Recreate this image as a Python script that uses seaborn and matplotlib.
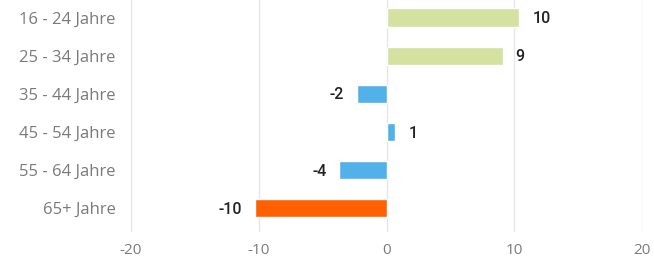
import pandas as pd
import matplotlib.pyplot as plt
import seaborn as sns

# Data
groups = ["16 - 24 Jahre", "25 - 34 Jahre", "35 - 44 Jahre", "45 - 54 Jahre", "55 - 64 Jahre", "65+ Jahre"]
values = [10.4, 9.1, -2.3, 0.7, -3.7, -10.3]
labels = ["10", "9", "-2", "1", "-4", "-10"]
colors = ["#d4e1a0", "#d4e1a0", "#52b1e8", "#52b1e8", "#52b1e8", "#ff6100"]

df = pd.DataFrame({"group": groups, "value": values})

sns.set_style("white")
plt.rcParams['font.family'] = ['Open Sans', 'DejaVu Sans']

fig = plt.figure(figsize=(6.54, 2.63), dpi=100)
ax = fig.add_axes([0.2, 0.118, 0.782, 0.888])

sns.barplot(data=df, x="value", y="group", hue="group", palette=colors,
            width=0.48, legend=False, ax=ax, saturation=1)

ax.set_xlim(-20, 20)
ax.set_ylim(5.62, -0.5)
ax.set_xticks([-20, -10, 0, 10, 20])
ax.set_xticklabels(["-20", "-10", "0", "10", "20"])
ax.grid(axis="x", color="#e6e6e6", linewidth=1)
ax.set_axisbelow(True)
for s in ax.spines.values():
    s.set_visible(False)
ax.set_xlabel("")
ax.set_ylabel("")
ax.tick_params(axis="both", length=0, labelcolor="#7a7a7a")
ax.tick_params(axis="x", pad=8, labelsize=11)
ax.tick_params(axis="y", pad=11, labelsize=12)

# value labels
for i, (v, t) in enumerate(zip(values, labels)):
    off = 1.0 if v >= 0 else -1.0
    ax.text(v + off, i + 0.03, t, va="center", ha="left" if v >= 0 else "right",
            fontsize=11.5, color="#222222", fontweight="medium",
            family=["Roboto", "DejaVu Sans"])

fig.savefig("out.png", dpi=100)
